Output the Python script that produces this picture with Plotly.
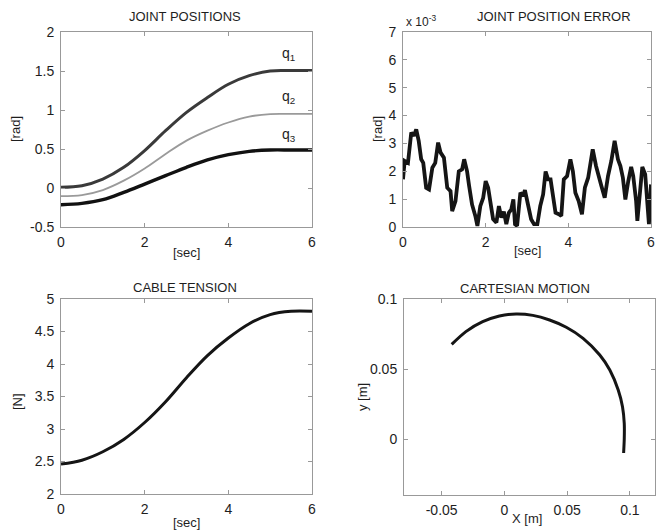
import plotly.graph_objects as go

# ---------------- data ----------------
t = [0, 0.5, 1, 1.5, 2, 2.5, 3, 3.5, 4, 4.5, 5, 5.5, 6]
q1 = [0.01, 0.03, 0.115, 0.265, 0.48, 0.735, 0.97, 1.16, 1.33, 1.44, 1.5, 1.505, 1.505]
q2 = [-0.105, -0.09, -0.026, 0.094, 0.25, 0.436, 0.607, 0.735, 0.84, 0.915, 0.948, 0.95, 0.95]
q3 = [-0.214, -0.197, -0.15, -0.056, 0.05, 0.158, 0.265, 0.36, 0.427, 0.47, 0.487, 0.487, 0.487]

err_t = [0, 0.04, 0.12, 0.2, 0.26, 0.32, 0.38, 0.44, 0.49, 0.56, 0.63, 0.71, 0.78, 0.85,
         0.91, 0.99, 1.07, 1.15, 1.19, 1.27, 1.35, 1.43, 1.48, 1.55, 1.6, 1.67, 1.75,
         1.8, 1.87, 1.94, 2.0, 2.06, 2.13, 2.18, 2.26, 2.32, 2.38, 2.44, 2.5, 2.56,
         2.62, 2.67, 2.71, 2.76, 2.84, 2.9, 2.95, 3.03, 3.1, 3.17, 3.25, 3.32, 3.39,
         3.45, 3.51, 3.57, 3.63, 3.69, 3.77, 3.83, 3.89, 3.97, 4.05, 4.11, 4.17, 4.25,
         4.33, 4.4, 4.48, 4.59, 4.67, 4.72, 4.8, 4.88, 4.96, 5.04, 5.12, 5.2, 5.26,
         5.32, 5.38, 5.45, 5.52, 5.57, 5.64, 5.67, 5.73, 5.79, 5.86, 5.91, 5.95, 6.0]
err = [1.71, 2.37, 2.3, 3.39, 3.27, 3.5, 3.09, 2.43, 2.3, 1.41, 1.35, 2.13, 2.3, 3.03,
       2.67, 2.49, 1.41, 1.29, 0.57, 0.93, 2.0, 2.07, 2.43, 2.0, 1.47, 0.81, 0.4,
       0.04, 0.75, 1.05, 1.65, 1.41, 0.75, 0.28, 0.16, 0.75, 0.34, 0.55, 0.1, 0.51,
       0.63, 0.99, 0.1, 0.04, 1.23, 1.11, 1.32, 0.69, 0.28, 0.1, 0.1, 0.75, 1.17,
       1.99, 1.71, 1.71, 1.17, 0.51, 0.46, 0.4, 1.71, 1.83, 2.43, 2.0, 1.23, 0.93,
       0.46, 1.41, 1.77, 2.79, 2.19, 1.95, 1.47, 1.05, 1.83, 2.37, 3.09, 2.43, 2.19,
       1.77, 0.99, 1.65, 2.16, 1.83, 0.93, 0.22, 1.29, 2.16, 1.89, 0.93, 0.1, 1.53]

tension = [2.46, 2.52, 2.65, 2.84, 3.1, 3.42, 3.79, 4.13, 4.4, 4.62, 4.76, 4.81, 4.81]

cart_x = [-0.042, -0.0307, -0.0173, -0.004, 0.0093, 0.0227, 0.036, 0.0493, 0.0627,
          0.076, 0.084, 0.0907, 0.0941, 0.0955, 0.0955, 0.095]
cart_y = [0.0676, 0.0767, 0.0838, 0.0879, 0.0893, 0.0883, 0.085, 0.0798, 0.0719,
          0.06, 0.0493, 0.035, 0.0231, 0.0112, 0.0, -0.01]

titles = ["JOINT POSITIONS", "JOINT POSITION ERROR", "CABLE TENSION", "CARTESIAN MOTION"]
x_titles = ["[sec]", "[sec]", "[sec]", "X [m]"]
y_titles = ["[rad]", "[rad]", "[N]", "y [m]"]
q_labels = ["q<sub>1</sub>", "q<sub>2</sub>", "q<sub>3</sub>"]
q_label_y = [1.72, 1.17, 0.68]

# ---------------- figure ----------------
W, H = 657, 532
FONT = "Liberation Sans, Arial, sans-serif"
TXT = "#1e1e1e"

def px_x(a, b):
    return [a / W, b / W]

def px_y(top, bottom):
    return [(H - bottom) / H, (H - top) / H]

fig = go.Figure()

# Joint positions
fig.add_trace(go.Scatter(x=t, y=q1, mode="lines", line=dict(color="#3a3a3a", width=3, shape="spline", smoothing=1.0),
                         xaxis="x", yaxis="y", showlegend=False))
fig.add_trace(go.Scatter(x=t, y=q2, mode="lines", line=dict(color="#9a9a9a", width=1.8, shape="spline", smoothing=1.0),
                         xaxis="x", yaxis="y", showlegend=False))
fig.add_trace(go.Scatter(x=t, y=q3, mode="lines", line=dict(color="#111111", width=3.4, shape="spline", smoothing=1.0),
                         xaxis="x", yaxis="y", showlegend=False))
# Error
fig.add_trace(go.Scatter(x=err_t, y=err, mode="lines", line=dict(color="#151515", width=3.8),
                         xaxis="x2", yaxis="y2", showlegend=False))
# Tension
fig.add_trace(go.Scatter(x=t, y=tension, mode="lines", line=dict(color="#151515", width=3, shape="spline", smoothing=1.0),
                         xaxis="x3", yaxis="y3", showlegend=False))
# Cartesian
fig.add_trace(go.Scatter(x=cart_x, y=cart_y, mode="lines", line=dict(color="#151515", width=3, shape="spline", smoothing=0.8),
                         xaxis="x4", yaxis="y4", showlegend=False))

axis_common = dict(showline=True, linecolor="#999999", linewidth=1, mirror="ticks",
                   ticks="inside", ticklen=4, tickcolor="#999999", showgrid=False, zeroline=False,
                   automargin=False, ticklabeloverflow="allow",
                   tickfont=dict(family=FONT, size=14, color=TXT))

dom = {
    1: (px_x(61, 312), px_y(32, 227)),
    2: (px_x(403, 651), px_y(32, 227)),
    3: (px_x(61, 312), px_y(299, 494)),
    4: (px_x(404, 655), px_y(299, 495)),
}

layout = dict(width=W, height=H, margin=dict(l=0, r=0, t=0, b=0, autoexpand=False),
              paper_bgcolor="white", plot_bgcolor="white", showlegend=False)

xspecs = {
    1: dict(range=[0, 6], tickvals=[0, 2, 4, 6]),
    2: dict(range=[0, 6], tickvals=[0, 2, 4, 6]),
    3: dict(range=[0, 6], tickvals=[0, 2, 4, 6]),
    4: dict(range=[-0.08, 0.12], tickvals=[-0.05, 0, 0.05, 0.1], ticktext=["-0.05", "0", "0.05", "0.1"]),
}
yspecs = {
    1: dict(range=[-0.5, 2], tickvals=[-0.5, 0, 0.5, 1, 1.5, 2], ticktext=["-0.5", "0", "0.5", "1", "1.5", "2"]),
    2: dict(range=[0, 7], tickvals=[0, 1, 2, 3, 4, 5, 6, 7]),
    3: dict(range=[2, 5], tickvals=[2, 2.5, 3, 3.5, 4, 4.5, 5], ticktext=["2", "2.5", "3", "3.5", "4", "4.5", "5"]),
    4: dict(range=[-0.04, 0.1], tickvals=[0, 0.05, 0.1], ticktext=["0", "0.05", "0.1"]),
}

for i in range(1, 5):
    xd, yd = dom[i]
    xn = "xaxis" if i == 1 else f"xaxis{i}"
    yn = "yaxis" if i == 1 else f"yaxis{i}"
    xa = dict(axis_common)
    xa.update(xspecs[i])
    xa.update(domain=xd, anchor="y" if i == 1 else f"y{i}", ticklabelstandoff=2)
    ya = dict(axis_common)
    ya.update(yspecs[i])
    ya.update(domain=yd, anchor="x" if i == 1 else f"x{i}", ticklabelstandoff=3)
    layout[xn] = xa
    layout[yn] = ya

fig.update_layout(**layout)

def pa(x, y):
    return x / W, (H - y) / H

# titles
title_pos = [(185, 16), (554, 16), (185, 287), (525, 288)]
for (cx, cy), txt in zip(title_pos, titles):
    X, Y = pa(cx, cy)
    fig.add_annotation(text=txt, x=X, y=Y, xref="paper", yref="paper",
                       showarrow=False, xanchor="center", yanchor="middle",
                       font=dict(family=FONT, size=13, color=TXT))

# axis titles
xt_pos = [(186, 252), (527, 251), (186, 522), (527, 518)]
for (cx, cy), txt in zip(xt_pos, x_titles):
    X, Y = pa(cx, cy)
    fig.add_annotation(text=txt, x=X, y=Y, xref="paper", yref="paper",
                       showarrow=False, xanchor="center", yanchor="middle",
                       font=dict(family=FONT, size=13, color=TXT))
yt_pos = [(16, 129), (378, 129), (17, 402), (362, 397)]
for (cx, cy), txt in zip(yt_pos, y_titles):
    X, Y = pa(cx, cy)
    fig.add_annotation(text=txt, x=X, y=Y, xref="paper", yref="paper", textangle=-90,
                       showarrow=False, xanchor="center", yanchor="middle",
                       font=dict(family=FONT, size=13, color=TXT))

# exponent label
X, Y = pa(404, 21)
fig.add_annotation(text="x 10<sup>-3</sup>", x=X, y=Y, xref="paper", yref="paper",
                   showarrow=False, xanchor="left", yanchor="middle",
                   font=dict(family=FONT, size=12, color=TXT))

# q labels
for lab, ly in zip(q_labels, q_label_y):
    fig.add_annotation(text=lab, x=5.45, y=ly, xref="x", yref="y", showarrow=False,
                       xanchor="center", yanchor="middle",
                       font=dict(family=FONT, size=14, color=TXT))

fig.write_html("out.html")
